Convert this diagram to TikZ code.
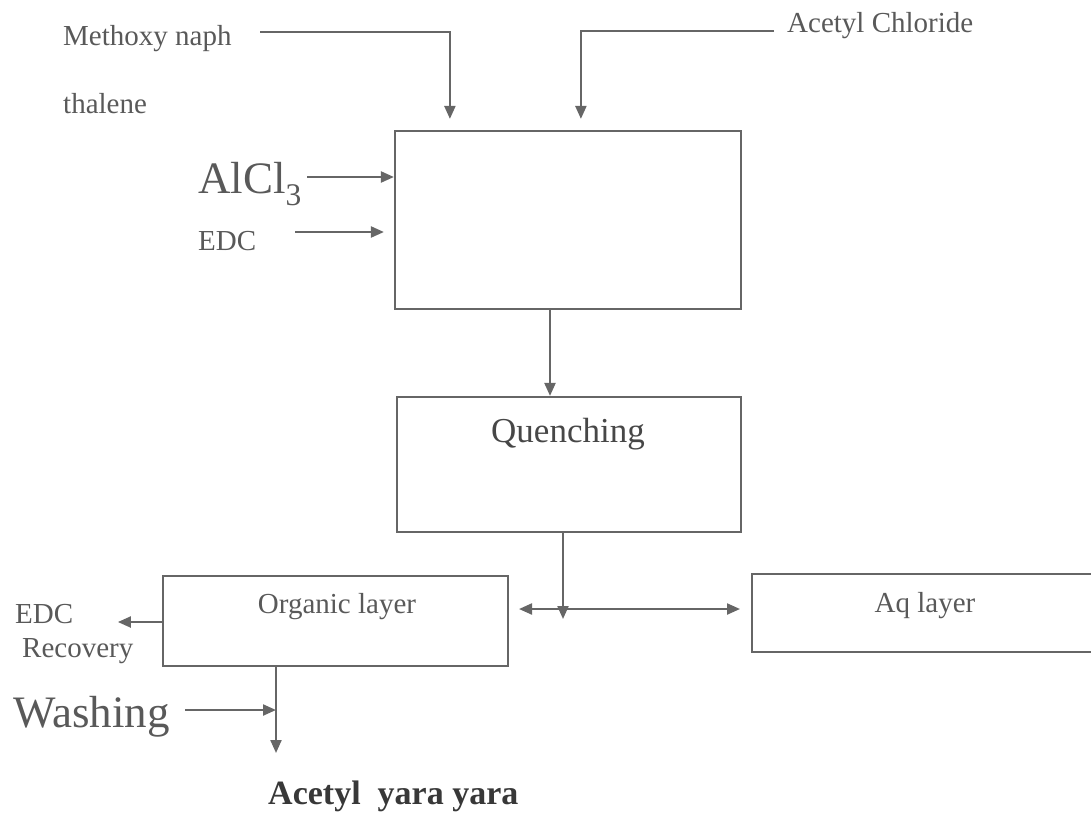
\documentclass[tikz,border=0pt]{standalone}
\usepackage{fontspec}
\setmainfont{Liberation Serif}
\usetikzlibrary{arrows.meta,calc}
\definecolor{lc}{HTML}{666666}
\definecolor{tc}{HTML}{595959}
\definecolor{tq}{HTML}{474747}
\definecolor{tb}{HTML}{383838}
\tikzset{
  box/.style={draw=lc, line width=2.2pt, inner sep=0pt},
  lbl/.style={inner sep=0pt, text=tc, anchor=base west, font=\fontsize{29}{34}\selectfont},
  big/.style={inner sep=0pt, text=tc, anchor=base west, font=\fontsize{45}{52}\selectfont},
  arr/.style={draw=lc, line width=2.2pt, -{Triangle[length=13pt,width=11pt]}},
  arrb/.style={draw=lc, line width=2.2pt, {Triangle[length=13pt,width=11pt]}-{Triangle[length=13pt,width=11pt]}},
  ln/.style={draw=lc, line width=2.2pt}
}
\begin{document}
\begin{tikzpicture}[x=1pt,y=-1pt]
\useasboundingbox (0,0) rectangle (1091,815);
\clip (0,0) rectangle (1091,815);
% boxes
\node[box, minimum width=346pt, minimum height=178pt] (reactor) at (568,220) {};
\node[box, minimum width=344pt, minimum height=135pt] (quench) at (569,464.5) {};
\node[box, minimum width=345pt, minimum height=90pt] (organic) at (335.5,621) {};
\node[box, minimum width=380pt, minimum height=78pt] (aq) at (942,613) {};
% labels
\node[lbl] (meth) at (63,45) {Methoxy naph};
\node[lbl] (thal) at (63,113) {thalene};
\node[lbl] (acl) at (787,32) {Acetyl Chloride};
\node[big] (alcl) at (198,193) {AlCl\textsubscript{3}};
\node[lbl] (edc) at (198,250) {EDC};
\node[inner sep=0pt, text=tq, anchor=base, font=\fontsize{35}{40}\selectfont] (qtxt) at (568,442) {Quenching};
\node[lbl, anchor=base] (otxt) at (337,613) {Organic layer};
\node[lbl, anchor=base] (aqtxt) at (925,612) {Aq layer};
\node[lbl] (edc2) at (15,623) {EDC};
\node[lbl] (rec) at (22,657) {Recovery};
\node[big] (wash) at (13,727) {Washing};
\node[inner sep=0pt, text=tb, anchor=base west, font=\bfseries\fontsize{34}{40}\selectfont] (prod) at (268,804) {Acetyl\hspace{0.5em}yara yara};
% free ends
\coordinate (m0) at (260,32);
\coordinate (c0) at (774,31);
\coordinate (a0) at (307,177);
\coordinate (e0) at (295,232);
\coordinate (w0) at (185,710);
\coordinate (split) at (563,619);
\coordinate (dl) at (508,609);
\coordinate (dr) at (752,609);
\coordinate (prodtip) at (276,753);
% connectors
\draw[arr] (m0) -| ([xshift=56pt,yshift=11pt]reactor.north west);
\draw[arr] (c0) -| ([xshift=187pt,yshift=11pt]reactor.north west);
\draw[arr] (a0) -- (a0 -| reactor.west);
\draw[arr, shorten >=10pt] (e0) -- (e0 -| reactor.west);
\draw[arr] ([xshift=-18pt]reactor.south) -- ([xshift=-19pt]quench.north);
\draw[arr] ([xshift=-6pt]quench.south) -- (split);
\draw[arrb, shorten <=11pt, shorten >=12pt] (dl) -- (dr);
\draw[arr] (organic.west |- 0,622) -- ++(-44,0);
\draw[arr] (organic.south -| prodtip) -- (prodtip);
\draw[arr] (w0) -- (w0 -| prodtip);
\end{tikzpicture}
\end{document}
